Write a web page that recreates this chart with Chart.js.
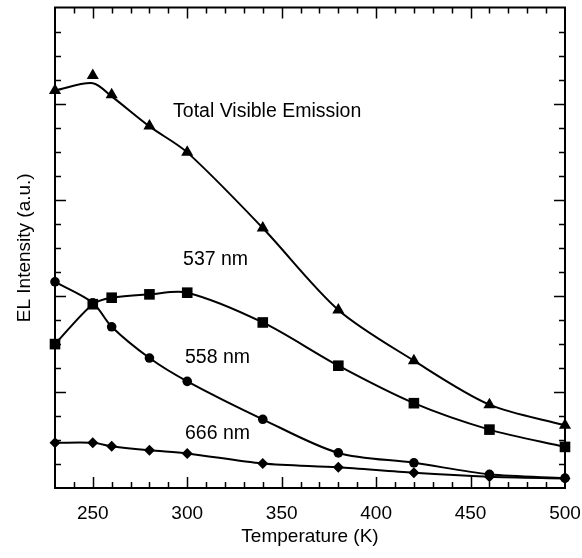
<!DOCTYPE html>
<html>
<head>
<meta charset="utf-8">
<script src="https://cdn.jsdelivr.net/npm/chart.js@4.4.1/dist/chart.umd.min.js"></script>
<style>
  body { margin: 0; background: #fff; }
  canvas { display: block; }
</style>
</head>
<body>
<canvas id="elChart" width="582" height="558"></canvas>
<script>
// temperatures (K) where EL was measured
const temps = [230, 250, 260, 280, 300, 340, 380, 420, 460, 500];

// intensities (arbitrary units)
const totalVisible = [16.55, 17.17, 16.37, 15.07, 13.97, 10.82, 7.41, 5.30, 3.47, 2.61];
const totalFit = [16.55, 16.85, 16.30, 15.05, 13.97, 10.82, 7.41, 5.30, 3.47, 2.61];
const em537 = [5.99, 7.65, 7.92, 8.06, 8.13, 6.89, 5.09, 3.53, 2.43, 1.71];
const em558 = [8.58, 7.71, 6.71, 5.41, 4.44, 2.86, 1.46, 1.05, 0.57, 0.41];
const em666 = [1.88, 1.88, 1.74, 1.57, 1.44, 1.02, 0.86, 0.63, 0.47, 0.40];

const tickLabels = [250, 300, 350, 400, 450, 500];

// curve labels: [text, temperature, intensity]
const curveLabels = [
    ['Total Visible Emission', 292.5, 15.65],
    ['537 nm', 297.8, 9.52],
    ['558 nm', 298.8, 5.42],
    ['666 nm', 298.8, 2.28]
];

const FONT = '"Liberation Sans", Arial, Helvetica, sans-serif';

function pts(ys) {
    return temps.map((t, i) => ({ x: t, y: ys[i] }));
}

function markers(label, ys, style, r, line) {
    return {
        label: label,
        data: pts(ys),
        showLine: line,
        borderColor: '#000',
        backgroundColor: '#000',
        borderWidth: 2,
        pointStyle: style,
        pointRadius: r,
        pointHoverRadius: r,
        pointBorderWidth: 0,
        tension: 0.3,
        clip: false
    };
}

// frame, inward tick marks and curve labels
const framePlugin = {
    id: 'frame',
    afterDatasetsDraw(chart) {
        const ctx = chart.ctx;
        const a = chart.chartArea;
        const xs = chart.scales.x;
        const ys = chart.scales.y;
        ctx.save();
        ctx.strokeStyle = '#000';
        ctx.lineWidth = 2;
        ctx.strokeRect(a.left, a.top, a.right - a.left, a.bottom - a.top);

        ctx.lineWidth = 1.5;
        ctx.beginPath();
        for (let t = 240; t < 500; t += 10) {
            const px = Math.round(xs.getPixelForValue(t)) + 0.5;
            const len = t % 50 === 0 ? 11 : 6;
            ctx.moveTo(px, a.bottom); ctx.lineTo(px, a.bottom - len);
            ctx.moveTo(px, a.top); ctx.lineTo(px, a.top + len);
        }
        for (let v = 1; v < 20; v++) {
            const py = Math.round(ys.getPixelForValue(v)) + 0.5;
            const len = v % 4 === 0 ? 11 : 6;
            ctx.moveTo(a.left, py); ctx.lineTo(a.left + len, py);
            ctx.moveTo(a.right, py); ctx.lineTo(a.right - len, py);
        }
        ctx.stroke();

        ctx.fillStyle = '#000';
        ctx.font = '19.5px ' + FONT;
        ctx.textAlign = 'left';
        ctx.textBaseline = 'middle';
        curveLabels.forEach(([txt, t, v]) => {
            ctx.fillText(txt, xs.getPixelForValue(t), ys.getPixelForValue(v));
        });
        ctx.restore();
    }
};

const ctx = document.getElementById('elChart').getContext('2d');

const elChart = new Chart(ctx, {
    type: 'line',
    data: {
        datasets: [
            {
                label: 'Total fit',
                data: pts(totalFit),
                borderColor: '#000',
                borderWidth: 2,
                pointRadius: 0,
                tension: 0.3,
                clip: false
            },
            markers('Total Visible Emission', totalVisible, 'triangle', 7, false),
            markers('537 nm', em537, 'rect', 7.5, true),
            markers('558 nm', em558, 'circle', 4.8, true),
            markers('666 nm', em666, 'rectRot', 5.5, true)
        ]
    },
    options: {
        responsive: false,
        animation: false,
        layout: { padding: { top: 5, right: 17, left: 0, bottom: 0 } },
        plugins: {
            legend: { display: false },
            tooltip: { enabled: false }
        },
        scales: {
            x: {
                type: 'linear',
                min: 230,
                max: 500,
                grid: { display: false, drawTicks: false },
                border: { display: false },
                afterBuildTicks: (s) => { s.ticks = tickLabels.map(v => ({ value: v })); },
                afterFit: (s) => { s.height = 70; s.paddingLeft = 0; s.paddingRight = 0; },
                ticks: {
                    color: '#000',
                    padding: 14,
                    maxRotation: 0,
                    font: { family: FONT, size: 19 }
                },
                title: {
                    display: true,
                    text: 'Temperature (K)',
                    color: '#000',
                    padding: { top: 0, bottom: 10 },
                    font: { family: FONT, size: 19 }
                }
            },
            y: {
                type: 'linear',
                min: 0,
                max: 20,
                grid: { display: false, drawTicks: false },
                border: { display: false },
                ticks: { display: false },
                afterFit: (s) => { s.width = 55; s.paddingTop = 0; s.paddingBottom = 0; },
                title: {
                    display: true,
                    text: 'EL Intensity (a.u.)',
                    color: '#000',
                    padding: { top: 13, bottom: 0 },
                    font: { family: FONT, size: 19 }
                }
            }
        }
    },
    plugins: [framePlugin]
});
</script>
</body>
</html>
